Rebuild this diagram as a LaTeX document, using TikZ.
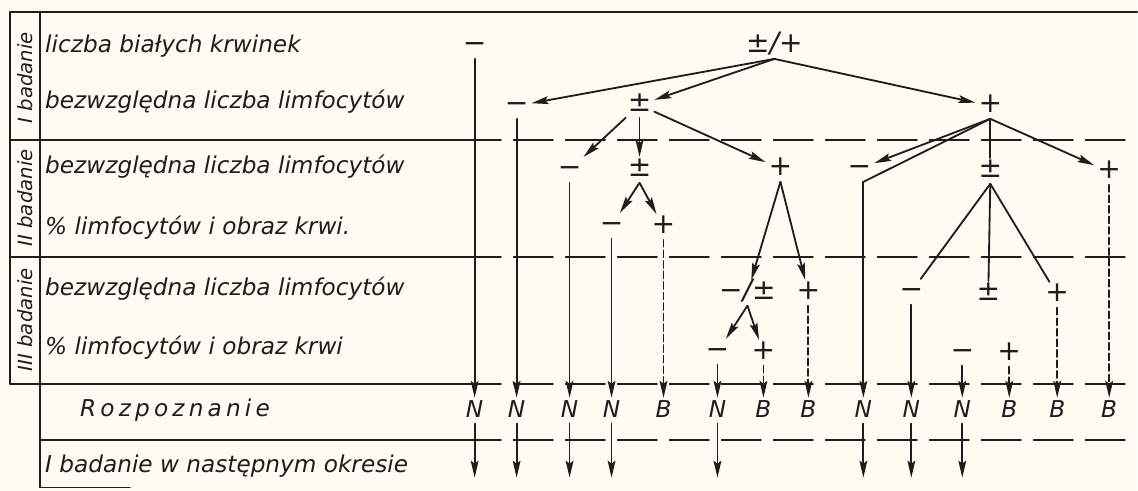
\documentclass[tikz,border=0pt]{standalone}
\usepackage{fontspec}
\setmainfont{DejaVu Sans}
\usetikzlibrary{arrows.meta}
\definecolor{paper}{RGB}{255,251,243}
\definecolor{ink}{RGB}{30,28,28}

\begin{document}
\begin{tikzpicture}[x=0.025cm, y=-0.025cm, line cap=round,
    every node/.style={font=\itshape\fontsize{16.5}{19}\selectfont, text=ink},
    sym/.style={inner sep=2pt, text height=12pt, text depth=2pt},
    sign/.style={sym, font=\itshape\fontsize{20}{22}\selectfont},
    row/.style={anchor=west, inner sep=0pt},
    side/.style={rotate=90, font=\itshape\fontsize{14}{16}\selectfont},
    rule/.style={draw=ink, line width=1.2pt},
    gap/.style={rule, dash pattern=on 28pt off 9pt},
    arr/.style={draw=ink, line width=1.3pt, -{Stealth[length=12pt,width=5.5pt,inset=2pt]}},
    arrd/.style={arr, dash pattern=on 5pt off 2.5pt},
    ln/.style={draw=ink, line width=1.3pt}]

   % Paper
   \fill[paper] (0,0) rectangle (1138,491);

   % Frame of the table
   \draw[rule] (10,12) -- (1138,12);
   \draw[rule] (10,12) -- (10,384);
   \draw[rule] (40,12) -- (40,488) -- (130,488);
   \foreach \y/\x in {140/10,257/10,384/10,440/40} {
       \draw[rule] (\x,\y) -- (462,\y);
       \draw[gap] (462,\y) -- (1138,\y);
   }

   % Examinations
   \node[side] (bad1) at (25,78) {I badanie};
   \node[side] (bad2) at (25,198) {II badanie};
   \node[side] (bad3) at (25,320) {III badanie};

   % Row labels
   \node[row] (wbc) at (45,46) {liczba białych krwinek};
   \node[row] (abs1) at (45,102) {bezwzględna liczba limfocytów};
   \node[row] (abs2) at (45,167) {bezwzględna liczba limfocytów};
   \node[row] (pct2) at (45,228) {\% limfocytów i obraz krwi.};
   \node[row] (abs3) at (45,289) {bezwzględna liczba limfocytów};
   \node[row] (pct3) at (45,348) {\% limfocytów i obraz krwi};
   \node[row, font=\itshape\fontsize{16.5}{19}\selectfont\addfontfeatures{LetterSpace=18}] (diag) at (80,410) {Rozpoznanie};
   \node[row] (next) at (45,466) {I badanie w następnym okresie};

   % Results of the examinations
   \node[sign] (a0) at (475,46) {−};
   \node[sign] (a) at (775,46) {±/+};
   \node[sign] (b1) at (517,106) {−};
   \node[sign] (b2) at (640,105) {±};
   \node[sign] (b3) at (991,106) {+};
   \node[sign] (c1) at (570,170) {−};
   \node[sign] (c2) at (640,170) {±};
   \node[sign] (c3) at (781,169) {+};
   \node[sign] (c4) at (860,169) {−};
   \node[sign] (c5) at (991,171) {±};
   \node[sign] (c6) at (1110,172) {+};
   \node[sign] (d1) at (612,226) {−};
   \node[sign] (d2) at (664,227) {+};
   \node[sign] (e1) at (748,293) {−/±};
   \node[sign] (e2) at (809,293) {+};
   \node[sign] (e3) at (912,292) {−};
   \node[sign] (e4) at (989,294) {±};
   \node[sign] (e5) at (1058,295) {+};
   \node[sign] (f1) at (718,352) {−};
   \node[sign] (f2) at (764,353) {+};
   \node[sign] (f3) at (963,353) {−};
   \node[sign] (f4) at (1010,354) {+};
   \coordinate (kink) at (864,182);

   % Diagnosis
   \foreach \i/\x/\t in {1/475/N,2/517/N,3/570/N,4/612/N,5/664/B,6/718/N,7/764/B,
                         8/809/B,9/864/N,10/912/N,11/963/N,12/1010/B,13/1058/B,14/1110/B}
       \node[sym] (n\i) at (\x,411) {\t};

   % Branches
   \draw[arr] (a.south) -- (b1);
   \draw[arr] (a.south) -- (b2);
   \draw[arr] (a.south) -- (b3);
   \draw[arr] (b2) -- (c1);
   \draw[arr] (b2) -- (c2);
   \draw[arr] (b2) -- (c3);
   \draw[arr] (b3.south) -- (c4);
   \draw[ln] (b3.south) -- (kink);
   \draw[ln] (b3.south) -- (c5);
   \draw[arr] (b3.south) -- (c6);
   \draw[arr] (c2.south) -- (d1);
   \draw[arr] (c2.south) -- (d2);
   \draw[arr] (c3.south) -- (e1);
   \draw[arr] (c3.south) -- (e2);
   \draw[ln] (c5.south) -- (e3);
   \draw[ln] (c5.south) -- (e4);
   \draw[ln] (c5.south) -- (e5);
   \draw[arr] (e1.south) -- (f1);
   \draw[arr] (e1.south) -- (f2);

   % Into the diagnosis
   \draw[arr] (a0) -- (n1);
   \draw[arr] (b1) -- (n2);
   \draw[arr] (c1) -- (n3);
   \draw[arr] (d1) -- (n4);
   \draw[arrd] (d2) -- (n5);
   \draw[arr] (f1) -- (n6);
   \draw[arrd] (f2) -- (n7);
   \draw[arrd] (e2) -- (n8);
   \draw[arr] (kink) -- (n9);
   \draw[arr] (e3) -- (n10);
   \draw[arr] (f3) -- (n11);
   \draw[arrd] (f4) -- (n12);
   \draw[arrd] (e5) -- (n13);
   \draw[arrd] (c6) -- (n14);

   % Next period
   \foreach \i in {1,2,3,4,6,9,10,11} {
       \coordinate (t\i) at (n\i |- 0,478);
       \draw[arr] (n\i) -- (t\i);
   }
\end{tikzpicture}
\end{document}
